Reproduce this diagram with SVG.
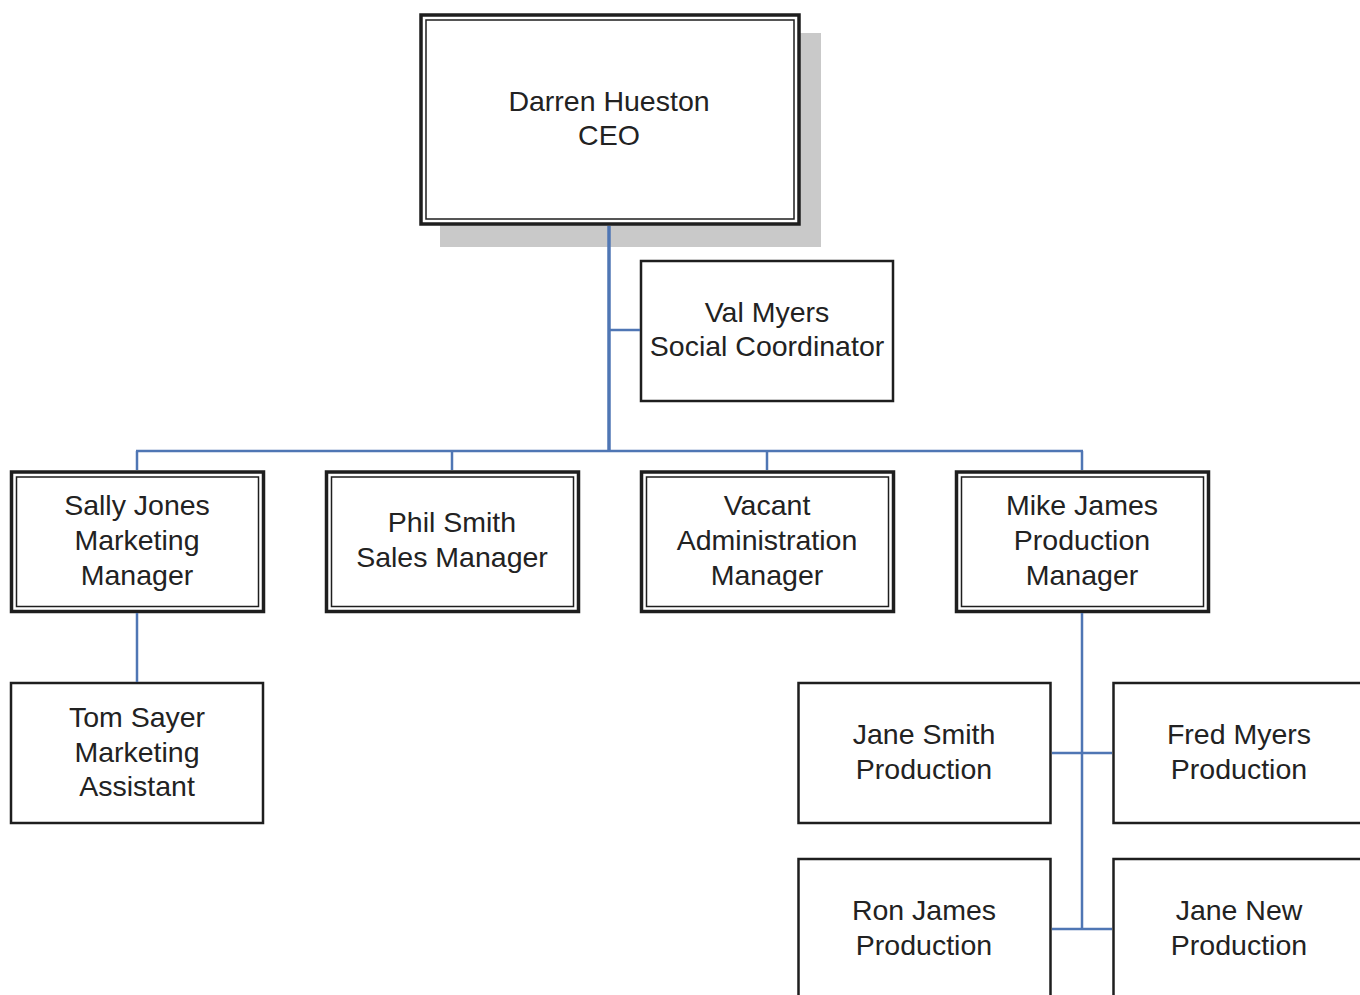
<svg xmlns="http://www.w3.org/2000/svg" width="1360" height="995" viewBox="0 0 1360 995">
<style>
.bg{fill:#ffffff}
.outer{fill:#ffffff;stroke:#1e1e1e;stroke-width:3.5}
.inner{fill:none;stroke:#1e1e1e;stroke-width:1.5}
.single{fill:#ffffff;stroke:#1e1e1e;stroke-width:2.5}
.shadow{fill:#c9c9c9}
.lbl{font-family:"Liberation Sans",Arial,sans-serif;font-size:28.5px;fill:#222222;text-anchor:middle}
.conn{fill:none;stroke:#4f76b4;stroke-width:2.5}
.thick{stroke-width:3.5}
</style>
<rect class="bg" x="0" y="0" width="1360" height="995"/>
<g id="ceo">
<rect class="shadow" x="440" y="33" width="381" height="214"/>
<rect class="outer" x="421" y="15" width="378" height="209"/>
<rect class="inner" x="426" y="20" width="368" height="199"/>
<text class="lbl" x="609" y="111">Darren Hueston</text>
<text class="lbl" x="609" y="145">CEO</text>
</g>
<g id="val">
<rect class="single" x="641" y="261" width="252" height="140"/>
<text class="lbl" x="767" y="322">Val Myers</text>
<text class="lbl" x="767" y="356">Social Coordinator</text>
</g>
<g id="sally">
<rect class="outer" x="11.5" y="472" width="252" height="139.5"/>
<rect class="inner" x="16.5" y="477" width="242" height="129.5"/>
<text class="lbl" x="137" y="515">Sally Jones</text>
<text class="lbl" x="137" y="550">Marketing</text>
<text class="lbl" x="137" y="585">Manager</text>
</g>
<g id="phil">
<rect class="outer" x="326.5" y="472" width="252" height="139.5"/>
<rect class="inner" x="331.5" y="477" width="242" height="129.5"/>
<text class="lbl" x="452" y="532">Phil Smith</text>
<text class="lbl" x="452" y="567">Sales Manager</text>
</g>
<g id="vacant">
<rect class="outer" x="641.5" y="472" width="252" height="139.5"/>
<rect class="inner" x="646.5" y="477" width="242" height="129.5"/>
<text class="lbl" x="767" y="515">Vacant</text>
<text class="lbl" x="767" y="550">Administration</text>
<text class="lbl" x="767" y="585">Manager</text>
</g>
<g id="mike">
<rect class="outer" x="956.5" y="472" width="252" height="139.5"/>
<rect class="inner" x="961.5" y="477" width="242" height="129.5"/>
<text class="lbl" x="1082" y="515">Mike James</text>
<text class="lbl" x="1082" y="550">Production</text>
<text class="lbl" x="1082" y="585">Manager</text>
</g>
<g id="tom">
<rect class="single" x="11" y="683" width="252" height="140"/>
<text class="lbl" x="137" y="727">Tom Sayer</text>
<text class="lbl" x="137" y="762">Marketing</text>
<text class="lbl" x="137" y="796">Assistant</text>
</g>
<g id="jane-smith">
<rect class="single" x="798.5" y="683" width="252" height="140"/>
<text class="lbl" x="924" y="744">Jane Smith</text>
<text class="lbl" x="924" y="779">Production</text>
</g>
<g id="fred">
<rect class="single" x="1113.5" y="683" width="252" height="140"/>
<text class="lbl" x="1239" y="744">Fred Myers</text>
<text class="lbl" x="1239" y="779">Production</text>
</g>
<g id="ron">
<rect class="single" x="798.5" y="859" width="252" height="145"/>
<text class="lbl" x="924" y="920">Ron James</text>
<text class="lbl" x="924" y="955">Production</text>
</g>
<g id="jane-new">
<rect class="single" x="1113.5" y="859" width="252" height="145"/>
<text class="lbl" x="1239" y="920">Jane New</text>
<text class="lbl" x="1239" y="955">Production</text>
</g>
<g id="connectors">
<line class="conn thick" x1="609" y1="226" x2="609" y2="451"/>
<line class="conn" x1="609" y1="330" x2="640" y2="330"/>
<line class="conn" x1="136" y1="451" x2="1083" y2="451"/>
<line class="conn" x1="137" y1="451" x2="137" y2="470"/>
<line class="conn" x1="452" y1="451" x2="452" y2="470"/>
<line class="conn" x1="767" y1="451" x2="767" y2="470"/>
<line class="conn" x1="1082" y1="451" x2="1082" y2="470"/>
<line class="conn" x1="137" y1="613" x2="137" y2="682"/>
<line class="conn" x1="1082" y1="613" x2="1082" y2="930"/>
<line class="conn" x1="1052" y1="753" x2="1112" y2="753"/>
<line class="conn" x1="1052" y1="929" x2="1112" y2="929"/>
</g>
</svg>
